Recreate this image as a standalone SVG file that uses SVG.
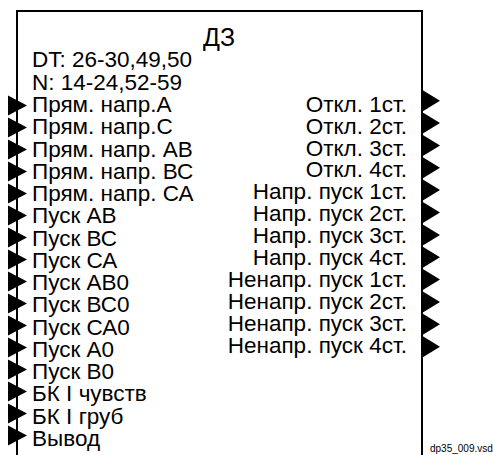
<svg xmlns="http://www.w3.org/2000/svg" width="493" height="455" viewBox="0 0 493 455">
<style>
text{font-family:"Liberation Sans",Arial,sans-serif;fill:#000}
.t{font-size:22.5px}
.r{font-size:22.5px;text-anchor:end}
.h{font-size:25px;text-anchor:middle}
.f{font-size:10px}
.box{fill:#fff;stroke:#000;stroke-width:2}
.ar{fill:#000}
</style>
<defs>
<polygon id="inA" points="0,-10 19,0 0,10"/>
<polygon id="outA" points="0,-11 18,0 0,11"/>
</defs>
<rect width="493" height="455" fill="#fff"/>
<g id="block">
<rect class="box" x="17" y="11" width="405" height="460"/>
<text class="h" x="219" y="46">ДЗ</text>
<text class="t" x="32" y="67">DT: 26-30,49,50</text>
<text class="t" x="32" y="90">N: 14-24,52-59</text>
</g>
<g id="connectors">
<g class="ar">
<use href="#inA" x="8" y="105.5"/>
<use href="#inA" x="8" y="127.5"/>
<use href="#inA" x="8" y="149.5"/>
<use href="#inA" x="8" y="171.5"/>
<use href="#inA" x="8" y="193.5"/>
<use href="#inA" x="8" y="215.5"/>
<use href="#inA" x="8" y="237.5"/>
<use href="#inA" x="8" y="259.5"/>
<use href="#inA" x="8" y="281.5"/>
<use href="#inA" x="8" y="303.5"/>
<use href="#inA" x="8" y="325.5"/>
<use href="#inA" x="8" y="347.5"/>
<use href="#inA" x="8" y="369.5"/>
<use href="#inA" x="8" y="391.5"/>
<use href="#inA" x="8" y="413.5"/>
<use href="#inA" x="8" y="435.5"/>
<use href="#outA" x="422" y="100.7"/>
<use href="#outA" x="422" y="123.1"/>
<use href="#outA" x="422" y="145.4"/>
<use href="#outA" x="422" y="167.8"/>
<use href="#outA" x="422" y="190.1"/>
<use href="#outA" x="422" y="212.5"/>
<use href="#outA" x="422" y="234.9"/>
<use href="#outA" x="422" y="257.2"/>
<use href="#outA" x="422" y="279.6"/>
<use href="#outA" x="422" y="301.9"/>
<use href="#outA" x="422" y="324.3"/>
<use href="#outA" x="422" y="346.7"/>
</g>
</g>
<g id="inputs">
<text class="t" x="32" y="112">Прям. напр.А</text>
<text class="t" x="32" y="134.2">Прям. напр.С</text>
<text class="t" x="32" y="156.5">Прям. напр. АВ</text>
<text class="t" x="32" y="178.8">Прям. напр. ВС</text>
<text class="t" x="32" y="201">Прям. напр. СА</text>
<text class="t" x="32" y="223.3">Пуск АВ</text>
<text class="t" x="32" y="245.6">Пуск ВС</text>
<text class="t" x="32" y="267.8">Пуск СА</text>
<text class="t" x="32" y="290.1">Пуск АВ0</text>
<text class="t" x="32" y="312.4">Пуск ВС0</text>
<text class="t" x="32" y="334.6">Пуск СА0</text>
<text class="t" x="32" y="356.9">Пуск А0</text>
<text class="t" x="32" y="379.2">Пуск В0</text>
<text class="t" x="32" y="401.4">БК I чувств</text>
<text class="t" x="32" y="423.7">БК I груб</text>
<text class="t" x="32" y="446">Вывод</text>
</g>
<g id="outputs">
<text class="r" x="407" y="111.7">Откл. 1ст.</text>
<text class="r" x="407" y="133.6">Откл. 2ст.</text>
<text class="r" x="407" y="155.5">Откл. 3ст.</text>
<text class="r" x="407" y="177.4">Откл. 4ст.</text>
<text class="r" x="407" y="199.3">Напр. пуск 1ст.</text>
<text class="r" x="407" y="221.2">Напр. пуск 2ст.</text>
<text class="r" x="407" y="243.1">Напр. пуск 3ст.</text>
<text class="r" x="407" y="265">Напр. пуск 4ст.</text>
<text class="r" x="407" y="286.9">Ненапр. пуск 1ст.</text>
<text class="r" x="407" y="308.8">Ненапр. пуск 2ст.</text>
<text class="r" x="407" y="330.7">Ненапр. пуск 3ст.</text>
<text class="r" x="407" y="352.7">Ненапр. пуск 4ст.</text>
</g>
<text class="f" x="430" y="452">dp35_009.vsd</text>
</svg>
